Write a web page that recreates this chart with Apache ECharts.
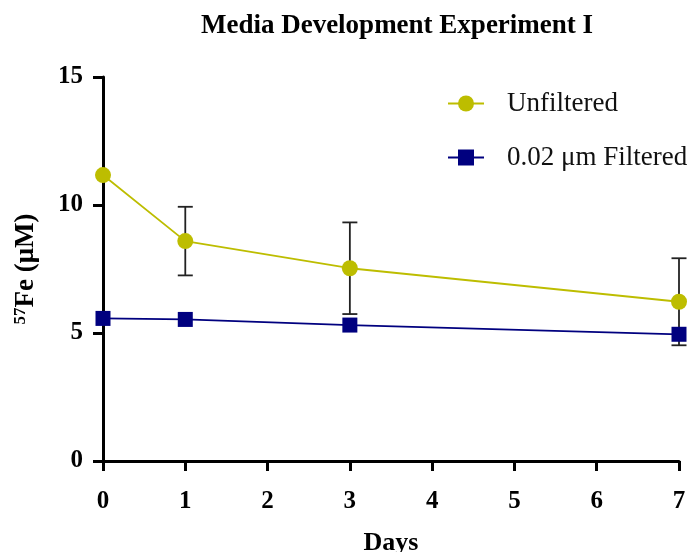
<!DOCTYPE html>
<html>
<head>
<meta charset="utf-8">
<script src="https://cdn.jsdelivr.net/npm/echarts@6/dist/echarts.min.js"></script>
<style>
  html, body { margin: 0; padding: 0; background: #fff; }
  #chart { width: 693px; height: 552px; }
</style>
</head>
<body>
<div id="chart"></div>
<script>
// Sampling days
const days = [0, 1, 3, 7];
// 57Fe concentration (µM), mean values
const unfiltered = [11.17, 8.59, 7.53, 6.22];
const filtered = [5.57, 5.53, 5.31, 4.95];
// Standard deviations (0 where no bar is drawn)
const unfilteredSd = [0, 1.34, 1.79, 1.70];
const filteredSd = [0, 0, 0, 0];
// Axis ticks
const xTicks = [0, 1, 2, 3, 4, 5, 6, 7];
const yTicks = [0, 5, 10, 15];

const serif = '"Liberation Serif", "Times New Roman", serif';
const yellow = '#BDBD00';
const navy = '#00007F';

function pairs(values) {
  return days.map((d, i) => [d, values[i]]);
}
function errorData(values, sd) {
  return days.map((d, i) => [d, values[i] - sd[i], values[i] + sd[i]]).filter((r, i) => sd[i] > 0);
}

function renderError(params, api) {
  const x = api.value(0);
  const lo = api.coord([x, api.value(1)]);
  const hi = api.coord([x, api.value(2)]);
  const cap = 7.5;
  const style = { stroke: '#222', lineWidth: 1.8 };
  return {
    type: 'group',
    children: [
      { type: 'line', shape: { x1: lo[0], y1: lo[1], x2: hi[0], y2: hi[1] }, style },
      { type: 'line', shape: { x1: hi[0] - cap, y1: hi[1], x2: hi[0] + cap, y2: hi[1] }, style },
      { type: 'line', shape: { x1: lo[0] - cap, y1: lo[1], x2: lo[0] + cap, y2: lo[1] }, style }
    ]
  };
}

const chart = echarts.init(document.getElementById('chart'));
chart.setOption({
  animation: false,
  title: {
    text: 'Media Development Experiment I',
    left: 392, top: 8, textAlign: 'center',
    textStyle: { fontFamily: serif, fontWeight: 'bold', fontSize: 27, color: '#000' }
  },
  legend: {
    orient: 'vertical',
    left: 442, top: 85,
    itemGap: 27,
    itemWidth: 36, itemHeight: 20,
    textStyle: { fontFamily: serif, fontSize: 27, color: '#111', padding: [0, 0, 0, 18] },
    data: ['Unfiltered', '0.02 μm Filtered']
  },
  grid: { left: 103, right: 14, top: 77, bottom: 91, outerBoundsMode: 'none' },
  xAxis: {
    type: 'value', min: 0, max: 7, interval: 1,
    name: 'Days', nameLocation: 'middle', nameGap: 69,
    nameTextStyle: { fontFamily: serif, fontWeight: 'bold', fontSize: 26, color: '#000' },
    axisLine: { show: true, onZero: false, lineStyle: { color: '#000', width: 3 } },
    axisTick: { show: true, length: 10, lineStyle: { color: '#000', width: 3 }, customValues: xTicks },
    axisLabel: { margin: 28, fontFamily: serif, fontWeight: 'bold', fontSize: 25, color: '#000', customValues: xTicks },
    splitLine: { show: false }
  },
  yAxis: {
    type: 'value', min: 0, max: 15, interval: 5,
    name: '{sup|57}{b|Fe (μM)}', nameLocation: 'middle', nameGap: 63,
    nameTextStyle: {
      rich: {
        sup: { fontFamily: serif, fontWeight: 'bold', fontSize: 17, color: '#000', verticalAlign: 'top', padding: [0, 0, 11, 0] },
        b: { fontFamily: serif, fontWeight: 'bold', fontSize: 27, color: '#000' }
      }
    },
    axisLine: { show: true, onZero: false, lineStyle: { color: '#000', width: 3 } },
    axisTick: { show: true, length: 10, lineStyle: { color: '#000', width: 3 }, customValues: yTicks },
    axisLabel: { margin: 20, fontFamily: serif, fontWeight: 'bold', fontSize: 25, color: '#000', customValues: yTicks },
    splitLine: { show: false }
  },
  series: [
    {
      type: 'custom', name: 'err-unfiltered', renderItem: renderError,
      data: errorData(unfiltered, unfilteredSd), z: 1, silent: true,
      encode: { x: 0, y: [1, 2] }
    },
    {
      type: 'custom', name: 'err-filtered', renderItem: renderError,
      data: errorData(filtered, filteredSd), z: 1, silent: true,
      encode: { x: 0, y: [1, 2] }
    },
    {
      name: 'Unfiltered', type: 'line', data: pairs(unfiltered), z: 3,
      symbol: 'circle', symbolSize: 16,
      lineStyle: { color: yellow, width: 1.8 },
      itemStyle: { color: yellow }
    },
    {
      name: '0.02 μm Filtered', type: 'line', data: pairs(filtered), z: 3,
      symbol: 'rect', symbolSize: 15,
      lineStyle: { color: navy, width: 1.8 },
      itemStyle: { color: navy }
    }
  ]
});
</script>
</body>
</html>
